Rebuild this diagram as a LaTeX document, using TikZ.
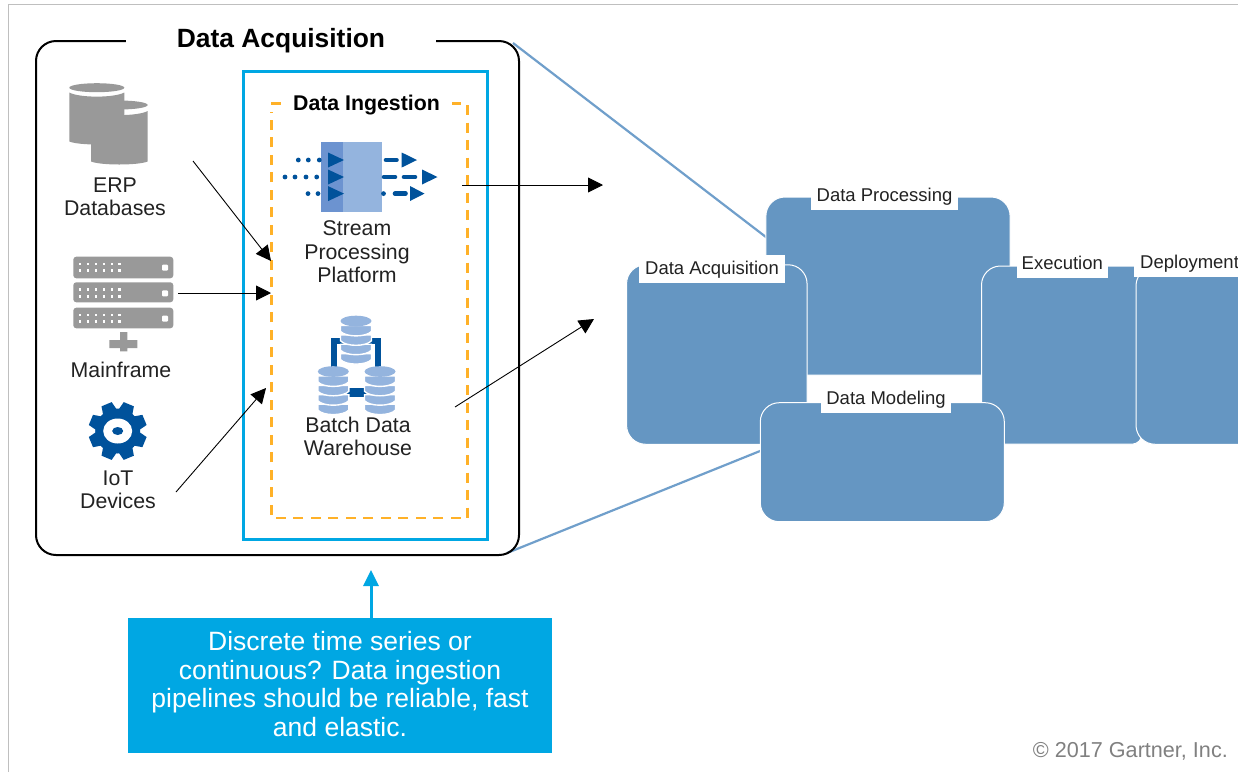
\documentclass[tikz,border=0pt]{standalone}
\usepackage{fontspec}
\setmainfont{Liberation Sans}
\usetikzlibrary{arrows.meta}
\definecolor{pagegray}{HTML}{BFBFBF}
\definecolor{iconGray}{HTML}{999999}
\definecolor{cyanBlue}{HTML}{00A7E3}
\definecolor{dashOrange}{HTML}{FFB128}
\definecolor{deepBlue}{HTML}{00529B}
\definecolor{midBlue}{HTML}{6C93D0}
\definecolor{lightBlue}{HTML}{94B4DE}
\definecolor{phaseBlue}{HTML}{6596C2}
\definecolor{zoomBlue}{HTML}{709FCB}
\definecolor{inkText}{HTML}{222222}
\tikzset{
  flowarrow/.style={draw=black,line width=0.9pt,-{Triangle[length=15pt,width=15pt]}},
  zoomline/.style={draw=zoomBlue,line width=2.2pt},
  caption/.style={font=\fontsize{21.3}{23.4}\selectfont,text=inkText,align=center,inner sep=0pt},
  phase/.style={fill=phaseBlue,draw=white,line width=1pt,rounded corners=19pt,inner sep=0pt},
  phaselabel/.style={fill=white,font=\fontsize{18.5}{20}\selectfont,text=inkText,inner ysep=0pt,inner xsep=0pt,text height=11.5pt,text depth=0pt},
  flowtri/.style={fill=deepBlue},
  dotrow/.style={fill=deepBlue},
  dashseg/.style={draw=deepBlue,line width=4.6pt,line cap=round},
  dashorange/.style={draw=dashOrange,line width=2.5pt}
}
\newcommand{\greycyl}[6]{% x1 x2 ellipse-y body-top body-bottom unused
  \fill[iconGray] ({(#1+#2)/2},#3) ellipse ({(#2-#1)/2} and 4.5);
  \fill[iconGray] (#1,#4) .. controls (#1+10,#4+5.5) and (#2-10,#4+5.5) .. (#2,#4) -- (#2,#5)
     .. controls (#2-10,#5+4) and (#1+10,#5+4) .. (#1,#5) -- cycle;
}
\newcommand{\dbstack}[2]{%
  \foreach \k in {4,3,2,1}{
    \path[fill=lightBlue,draw=white,line width=1.4pt]
      ({#1-15.5},{#2+\k*9.4-5}) -- ({#1-15.5},{#2+\k*9.4+1})
      .. controls ({#1-10},{#2+\k*9.4+7}) and ({#1+10},{#2+\k*9.4+7}) .. ({#1+15.5},{#2+\k*9.4+1})
      -- ({#1+15.5},{#2+\k*9.4-5}) -- cycle;
  }
  \fill[lightBlue] (#1,#2) ellipse (15.5 and 5.3);
}
\newcommand{\srvbar}[2]{%
  \fill[iconGray,rounded corners=3pt] (73.3,#1) rectangle (173.3,#2);
  \foreach \px in {80,88,96,104,112,119.5}{
    \fill[white] (\px-1.4,#1+5.8) rectangle (\px+1.4,#1+8.6);
    \fill[white] (\px-1.4,#1+12.4) rectangle (\px+1.4,#1+15.2);
  }
  \fill[white,rounded corners=1pt] (162,#1+8) rectangle (168,#1+14);
}
\begin{document}
\begin{tikzpicture}[x=1pt,y=-1pt]
\useasboundingbox (0,0) rectangle (1238,772);
\fill[white] (0,0) rectangle (1238,772);
\draw[pagegray,line width=1.2pt] (8.3,772) -- (8.3,4.7) -- (1238,4.7);

% zoom lines
\coordinate (zoomTopA) at (513,43);
\coordinate (zoomTopB) at (775,244);
\coordinate (zoomBotA) at (507,553);
\coordinate (zoomBotB) at (770,447);
\draw[zoomline] (zoomTopA) -- (zoomTopB);
\draw[zoomline] (zoomBotA) -- (zoomBotB);

% acquisition frame
\node[draw=black,line width=2pt,rounded corners=20pt,minimum width=483pt,minimum height=514pt,inner sep=0pt] (acq) at (277.5,298) {};
\node[fill=white,minimum width=310pt,minimum height=10pt,inner sep=0pt] (acqgap) at (281,41) {};
\node[font=\fontsize{26.4}{28}\selectfont\bfseries,text=black,inner sep=0pt] (acqtitle) at (281,41) {Data Acquisition};

% ingestion boxes
\node[draw=cyanBlue,line width=3pt,minimum width=244pt,minimum height=468pt,inner sep=0pt] (ingest) at (365.6,305.2) {};
\draw[dashorange,dash pattern=on 10pt off 7.5pt] (467.7,105) -- (467.7,518) -- (271.5,518) -- (271.5,112);
\draw[dashorange] (271,103.5) -- (281,103.5);
\draw[dashorange] (452,103.5) -- (461,103.5);
\node[font=\fontsize{21.3}{23}\selectfont\bfseries,text=black,inner sep=0pt] (ingesttitle) at (366.5,105) {Data Ingestion};

% ERP cylinders
\greycyl{91}{147.7}{105}{111}{161.5}{}
\greycyl{69.3}{124.3}{87.7}{92.5}{141.5}{}
\node[caption] (erp) at (115,196.5) {ERP\\Databases};

% mainframe
\srvbar{256.7}{278.3}
\srvbar{282.3}{302.3}
\srvbar{307.7}{328.3}
\fill[iconGray] (120,332) rectangle (127.3,341) (109.3,340) rectangle (137.3,348) (120,347) rectangle (127.3,351.3);
\node[caption] (mainframe) at (121,369.5) {Mainframe};

% gear
\begin{scope}[shift={(117.7,431)}]
  \foreach \a in {22.5,67.5,...,337.5}{
    \fill[deepBlue,rotate=\a] (-5.5,-29) -- (5.5,-29) -- (8,-17) -- (-8,-17) -- cycle;
  }
  \fill[deepBlue] (0,0) circle [radius=22.5];
  \fill[white] (0,0) ellipse (14.5 and 12.5);
  \fill[deepBlue] (0,0) ellipse (5.5 and 4);
\end{scope}
\node[caption] (iot) at (118,489.5) {IoT\\Devices};

% stream icon
\fill[midBlue] (320.7,142.3) rectangle (343.3,211.7);
\fill[lightBlue] (343.3,142.3) rectangle (381.7,211.7);
\foreach \dx/\dy in {298.3/160,308.3/160,319.3/160,285/177,295/177,306/177,316.7/177,308/193.6,318/193.6}{
  \fill[dotrow] (\dx,\dy) circle [radius=2.4];
}
\foreach \ty in {160,177,193.6}{
  \fill[flowtri] (328,\ty-7.5) -- (344,\ty) -- (328,\ty+7.5) -- cycle;
}
\draw[dashseg] (386,160) -- (396.5,160);
\draw[dashseg] (384,177) -- (395,177);
\draw[dashseg] (404,177) -- (415,177);
\fill[dotrow] (383.5,193.6) circle [radius=2.4];
\draw[dashseg] (395,193.6) -- (405.5,193.6);
\fill[flowtri] (401.7,152.5) -- (417,160) -- (401.7,167.5) -- cycle;
\fill[flowtri] (422,169.5) -- (437.5,177) -- (422,184.5) -- cycle;
\fill[flowtri] (410,186) -- (424.5,193.6) -- (410,201) -- cycle;
\node[caption] (stream) at (357,252) {Stream\\Processing\\Platform};

% warehouse icon
\draw[deepBlue,line width=6pt] (333.5,368) -- (333.5,341) -- (378,341) -- (378,368);
\fill[deepBlue] (345,388) rectangle (368,396.5);
\dbstack{356}{321}
\dbstack{333.3}{371.5}
\dbstack{380}{371.5}
\node[caption] (batch) at (358,436.5) {Batch Data\\Warehouse};

% flow arrows
\coordinate (erpOut) at (193,161);
\coordinate (erpIn) at (271,261);
\coordinate (mainOut) at (178,293);
\coordinate (mainIn) at (271,293);
\coordinate (iotOut) at (176,492);
\coordinate (iotIn) at (266,388);
\coordinate (streamOut) at (462,185);
\coordinate (streamIn) at (603,185);
\coordinate (batchOut) at (455,407);
\coordinate (batchIn) at (594,319);
\draw[flowarrow] (erpOut) -- (erpIn);
\draw[flowarrow] (mainOut) -- (mainIn);
\draw[flowarrow] (iotOut) -- (iotIn);
\draw[flowarrow] (streamOut) -- (streamIn);
\draw[flowarrow] (batchOut) -- (batchIn);

% phases
\node[phase,minimum width=244.2pt,minimum height=178pt] (dp) at (888,286) {};
\node[phaselabel,minimum width=147pt,minimum height=28pt] (dpl) at (884.5,196) {Data Processing};
\node[phase,minimum width=180.5pt,minimum height=179.5pt] (da) at (716.8,354.5) {};
\node[phaselabel,minimum width=146pt,minimum height=28pt] (dal) at (712,269) {Data Acquisition};
\path[fill=phaseBlue,draw=white,line width=1pt]
  (1000,266) [rounded corners=4pt] -- (1138,266) [rounded corners=10pt] -- (1142,444.2) -- (981.5,444.2) [rounded corners=19pt] -- (981.5,266) [sharp corners] -- cycle;
\node[phase,minimum width=130pt,minimum height=177.5pt] (dep) at (1201,355.5) {};
\node[phaselabel,anchor=west,inner xsep=6pt,minimum height=29pt] (depl) at (1134,262.5) {Deployment};
\node[phaselabel,minimum width=91pt,minimum height=28pt] (exl) at (1062.3,264) {Execution};
\node[phase,minimum width=244pt,minimum height=119pt] (dm) at (882.3,462.2) {};
\node[phaselabel,minimum width=130pt,minimum height=28pt] (dml) at (886,399) {Data Modeling};

% callout
\node[fill=cyanBlue,minimum width=424pt,minimum height=135pt,inner sep=0pt] (callout) at (340,685.5) {};
\node[text=white,align=center,inner sep=0pt,font=\fontsize{26.5}{28.7}\selectfont] (callouttext) at (340,684) {Discrete time series or\\continuous? Data ingestion\\pipelines should be reliable, fast\\and elastic.};
\coordinate (upTip) at (371,570);
\draw[draw=cyanBlue,line width=3pt,-{Triangle[length=16pt,width=15pt]}] (callout.north -| upTip) -- (upTip);

% copyright
\node[anchor=east,font=\fontsize{21.6}{23}\selectfont,text={rgb,255:red,128;green,128;blue,128},inner sep=0pt] (copyr) at (1228,751) {© 2017 Gartner, Inc.};
\end{tikzpicture}
\end{document}
